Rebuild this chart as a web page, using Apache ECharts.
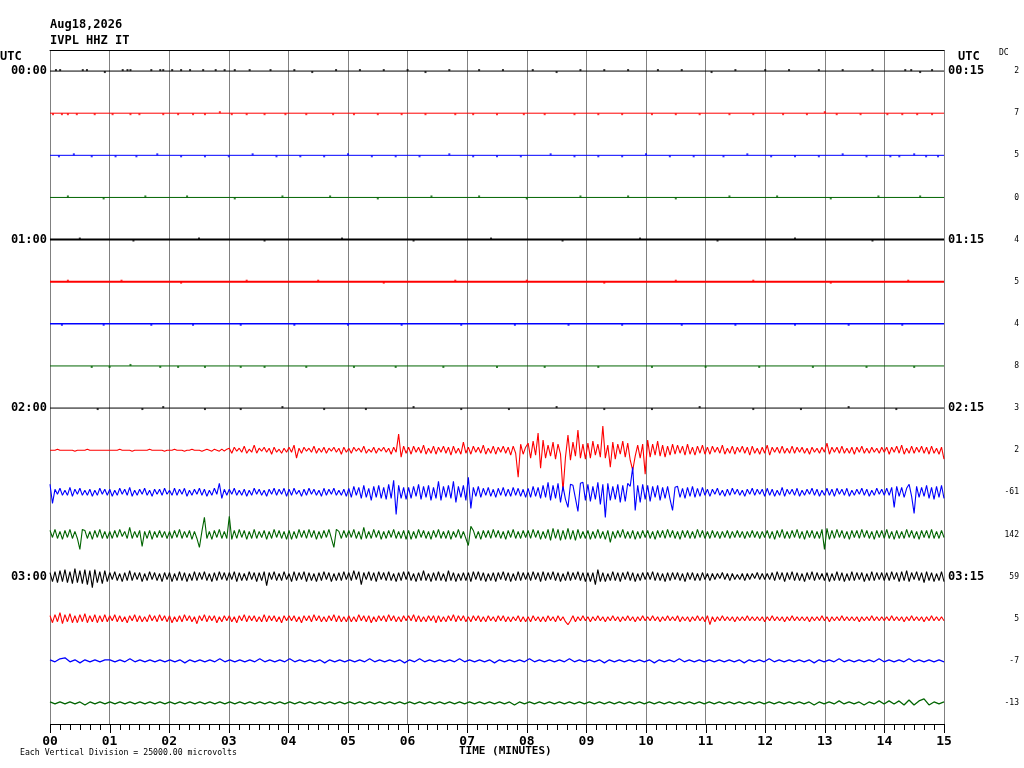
<!DOCTYPE html>
<html>
<head>
<meta charset="utf-8">
<title>IVPL HHZ IT</title>
<script src="https://cdn.jsdelivr.net/npm/echarts@6/dist/echarts.min.js"></script>
<style>
  html, body { margin: 0; padding: 0; background: #fff; }
  #main { width: 1024px; height: 768px; }
</style>
</head>
<body>
<div id="main"></div>
<script>
// helicorder, 16 lines of 15 minutes each
// displacement values are in 1/42 of a vertical division (25000 uV per division)
var leftLabels = ['00:00', '', '', '', '01:00', '', '', '', '02:00', '', '', '', '03:00', '', '', ''];
var rightLabels = ['00:15', '', '', '', '01:15', '', '', '', '02:15', '', '', '', '03:15', '', '', ''];
var dcValues = [2, 7, 5, 0, 4, 5, 4, 8, 3, 2, -61, 142, 59, 5, -7, -13];
var minuteTicks = ['00', '01', '02', '03', '04', '05', '06', '07', '08', '09', '10', '11', '12', '13', '14', '15'];
var ticksPerMinute = 6; // one small tick every 10 s

// quiet lines 0..8: flat trace with single-sample blips [minute, value]
var dots0 = [[0.1,1],[0.17,1],[0.55,1],[0.62,1],[0.92,-1],[1.22,1],[1.3,1],[1.35,1],[1.7,1],[1.85,1],[1.9,1],[2.05,1],[2.2,1],[2.35,1],[2.57,1],[2.78,1],[2.93,1],[3.1,1],[3.35,1],[3.7,1],[4.1,1],[4.4,-1],[4.8,1],[5.2,1],[5.6,1],[6.0,1],[6.3,-1],[6.7,1],[7.2,1],[7.6,1],[8.1,1],[8.5,-1],[8.9,1],[9.3,1],[9.7,1],[10.2,1],[10.6,1],[11.1,-1],[11.5,1],[12.0,1],[12.4,1],[12.9,1],[13.3,1],[13.8,1],[14.35,1],[14.45,1],[14.6,-1],[14.8,1]];
var dots1 = [[0.05,-1],[0.2,-1],[0.3,-1],[0.45,-1],[0.75,-1],[1.05,-1],[1.35,-1],[1.5,-1],[1.9,-1],[2.15,-1],[2.4,-1],[2.6,-1],[2.85,1],[3.05,-1],[3.3,-1],[3.6,-1],[3.95,-1],[4.3,-1],[4.75,-1],[5.1,-1],[5.5,-1],[5.9,-1],[6.3,-1],[6.8,-1],[7.1,-1],[7.5,-1],[7.95,-1],[8.3,-1],[8.8,-1],[9.2,-1],[9.6,-1],[10.1,-1],[10.5,-1],[10.9,-1],[11.4,-1],[11.8,-1],[12.3,-1],[12.7,-1],[13.0,1],[13.2,-1],[13.6,-1],[14.05,-1],[14.3,-1],[14.55,-1],[14.8,-1]];
var dots2 = [[0.15,-1],[0.4,1],[0.7,-1],[1.1,-1],[1.45,-1],[1.8,1],[2.2,-1],[2.6,-1],[3.0,-1],[3.4,1],[3.8,-1],[4.2,-1],[4.6,-1],[5.0,1],[5.4,-1],[5.8,-1],[6.2,-1],[6.7,1],[7.1,-1],[7.5,-1],[7.9,-1],[8.4,1],[8.8,-1],[9.2,-1],[9.6,-1],[10.0,1],[10.4,-1],[10.8,-1],[11.3,-1],[11.7,1],[12.1,-1],[12.5,-1],[12.9,-1],[13.3,1],[13.7,-1],[14.1,-1],[14.25,-1],[14.5,1],[14.7,-1],[14.9,-1]];
var dots3 = [[0.3,1],[0.9,-1],[1.6,1],[2.3,1],[3.1,-1],[3.9,1],[4.7,1],[5.5,-1],[6.4,1],[7.2,1],[8.0,-1],[8.9,1],[9.7,1],[10.5,-1],[11.4,1],[12.2,1],[13.1,-1],[13.9,1],[14.6,1]];
var dots4 = [[0.5,1],[1.4,-1],[2.5,1],[3.6,-1],[4.9,1],[6.1,-1],[7.4,1],[8.6,-1],[9.9,1],[11.2,-1],[12.5,1],[13.8,-1]];
var dots5 = [[0.3,1],[1.2,1],[2.2,-1],[3.3,1],[4.5,1],[5.6,-1],[6.8,1],[8.0,1],[9.3,-1],[10.5,1],[11.8,1],[13.1,-1],[14.4,1]];
var dots6 = [[0.2,-1],[0.9,-1],[1.7,-1],[2.4,-1],[3.2,-1],[4.1,-1],[5.0,-1],[5.9,-1],[6.9,-1],[7.8,-1],[8.7,-1],[9.6,-1],[10.6,-1],[11.5,-1],[12.5,-1],[13.4,-1],[14.3,-1]];
var dots7 = [[0.7,-1],[1.0,-1],[1.35,1],[1.85,-1],[2.15,-1],[2.6,-1],[3.2,-1],[3.6,-1],[4.3,-1],[5.1,-1],[5.8,-1],[6.6,-1],[7.5,-1],[8.3,-1],[9.2,-1],[10.1,-1],[11.0,-1],[11.9,-1],[12.8,-1],[13.7,-1],[14.5,-1]];
var dots8 = [[0.8,-1],[1.55,-1],[1.9,1],[2.6,-1],[3.2,-1],[3.9,1],[4.6,-1],[5.3,-1],[6.1,1],[6.9,-1],[7.7,-1],[8.5,1],[9.3,-1],[10.1,-1],[10.9,1],[11.8,-1],[12.6,-1],[13.4,1],[14.2,-1]];

// active lines 9..13, one sample every 2.5 s (24 per minute)
var t9 = [
  0,0,0,1,0,0,0,0,0,0,-1,0,0,0,0,1,0,0,0,0,0,0,0,0,
  0,0,0,0,1,0,0,0,0,-1,0,0,0,0,0,0,1,0,0,0,0,0,-1,0,
  0,0,1,0,0,0,-1,0,0,1,0,0,0,-1,0,1,0,-1,1,0,-1,1,-1,1,
  2,-3,3,-1,2,-2,4,-3,1,-2,5,-3,2,-1,3,-2,2,-4,3,-2,1,-3,2,-2,
  3,-2,5,-8,2,-3,3,-1,2,-2,4,-3,2,-2,3,-3,2,-1,3,-2,2,-4,3,-2,
  2,-3,3,-1,2,-2,4,-3,1,-2,3,-3,2,-1,3,-2,2,-4,3,-2,16,-7,4,-3,
  3,-4,4,-2,3,-3,5,-4,2,-3,4,-4,3,-2,4,-3,3,-5,4,-3,2,-4,8,-3,
  3,-4,4,-2,3,-3,5,-4,2,-3,4,-4,3,-2,4,-3,3,-5,4,-3,-27,6,-4,3,
  7,-8,9,-5,17,-18,10,-8,5,-6,8,-9,6,-4,-41,-7,15,-10,8,-6,20,-8,6,-9,
  7,-8,9,-5,6,-7,24,-8,5,-17,8,-9,6,-4,9,-7,7,-10,-20,-6,5,-8,6,-24,
  10,-7,6,-5,9,-6,5,-7,4,-5,6,-4,5,-3,4,-5,6,-4,3,-5,4,-3,5,-4,
  3,-4,4,-2,3,-3,5,-4,2,-3,4,-4,3,-2,4,-3,3,-5,4,-3,2,-4,3,-3,
  5,-5,3,-2,3,-3,4,-3,2,-3,4,-3,3,-2,3,-3,2,-4,3,-2,2,-3,3,-2,
  7,-4,3,-2,3,-3,4,-3,2,-3,3,-4,3,-2,4,-3,2,-3,3,-2,2,-3,3,-2,
  3,-4,3,-2,4,-3,5,-4,2,-3,4,-3,3,-2,4,-3,3,-4,4,-3,2,-4,3,-9
];
var t10 = [
  8,-11,3,-2,4,-3,2,-3,5,-4,3,-2,4,-3,2,-3,3,-4,2,-3,4,-2,3,-3,
  3,-4,2,-3,4,-2,3,-3,5,-4,2,-3,3,-2,4,-3,2,-4,3,-2,3,-3,4,-2,
  2,-3,4,-3,3,-2,4,-4,2,-3,3,-2,4,-3,3,-4,2,-3,4,-2,9,-6,3,-3,
  3,-2,4,-3,2,-3,3,-4,2,-3,4,-2,3,-3,2,-4,3,-2,4,-3,3,-2,4,-4,
  3,-3,4,-2,2,-4,3,-3,4,-2,3,-3,2,-4,4,-3,3,-2,4,-3,2,-3,3,-4,
  4,-5,6,-3,5,-6,7,-5,4,-8,6,-5,7,-6,5,-7,8,-6,12,-22,7,-6,5,-7,
  5,-6,6,-4,8,-7,6,-5,7,-8,5,-6,11,-8,6,-5,7,-6,11,-10,6,-5,7,-8,
  15,-16,5,-4,6,-5,4,-3,5,-4,3,-5,4,-3,5,-4,3,-4,5,-3,4,-4,3,-5,
  4,-5,6,-4,5,-6,7,-5,10,-8,7,-6,9,-10,6,-7,-15,8,7,-6,-19,9,10,-8,
  8,-9,6,-7,10,-12,8,-25,9,-8,6,-7,8,-10,7,-9,9,6,25,-18,7,-10,8,-7,
  7,-9,6,-5,7,-8,5,-6,6,-7,-18,5,6,-5,4,-6,5,-4,6,-5,4,-4,5,-3,
  3,-4,3,-2,4,-3,2,-4,3,-3,4,-2,3,-3,2,-4,3,-2,4,-3,3,-2,3,-4,
  4,-3,3,-4,2,-3,5,-4,3,-2,3,-3,4,-4,2,-3,3,-2,4,-3,3,-4,2,-3,
  4,-3,3,-4,4,-2,3,-3,4,-4,2,-3,3,-2,4,-3,3,-4,2,-3,4,-2,3,-3,
  4,-3,5,-15,6,-4,5,-5,4,8,-4,-21,6,-5,5,-4,7,-6,5,-7,6,-5,7,-6
];
var t11 = [
  4,-3,5,-4,3,-5,4,-3,5,-4,3,-4,-15,5,4,-4,3,-5,4,-3,5,-4,3,-4,
  3,-4,4,-3,5,-2,3,-4,7,-4,3,-3,4,-12,3,-4,4,-5,3,-3,4,-3,3,-4,
  3,-4,4,-3,5,-4,3,-3,4,-5,3,-4,-13,3,17,-4,3,-5,4,-3,5,-4,3,-4,
  18,-5,4,-4,5,-3,4,-5,3,-4,5,-4,3,-3,4,-5,3,-4,5,-3,4,-4,3,-5,
  4,-5,3,-4,5,-3,4,-4,5,-3,4,-5,3,-4,4,-3,5,-4,-13,5,3,-4,4,-3,
  4,-3,5,-4,3,-5,7,-4,3,-4,5,-3,4,-5,3,-4,4,-3,5,-4,3,-4,4,-5,
  4,-5,3,-4,5,-3,4,-4,3,-5,4,-3,5,-4,3,-4,4,-5,3,-3,5,-4,3,-4,
  -11,8,4,-4,3,-5,4,-3,4,-4,5,-3,4,-4,3,-5,4,-3,5,-4,3,-4,4,-3,
  4,-4,5,-3,4,-5,3,-4,5,-6,6,-4,5,-6,4,-5,6,-5,4,-6,5,-4,3,-4,
  4,-5,3,-4,5,-4,3,-5,4,-8,3,-4,4,-3,5,-4,3,-4,4,-5,3,-4,4,-3,
  4,-4,3,-5,4,-3,4,-4,5,-3,4,-4,3,-5,4,-3,4,-4,3,-4,5,-3,4,-4,
  3,-4,4,-3,3,-4,3,-3,4,-4,3,-3,4,-3,3,-4,3,-3,4,-3,3,-4,3,-3,
  4,-4,3,-5,4,-3,5,-4,3,-4,4,-3,5,-4,3,-5,4,-3,4,-4,3,-4,5,-15,
  6,-5,4,-4,5,-3,4,-4,3,-5,4,-3,4,-4,5,-3,4,-4,3,-5,4,-3,4,-4,
  5,-4,3,-5,4,-4,3,-4,5,-3,4,-4,3,-5,4,-3,4,-4,5,-4,3,-4,4,-3
];
var t12 = [
  4,-5,5,-6,6,-5,7,-6,5,-7,8,-6,6,-7,7,-8,6,-11,7,-6,5,-7,6,-5,
  4,-3,5,-4,3,-5,4,-4,6,-4,4,-3,4,-5,3,-4,5,-3,4,-4,3,-5,4,-3,
  4,-5,3,-4,5,-4,4,-5,3,-4,5,-4,4,-3,5,-4,3,-5,4,-4,5,-3,4,-4,
  4,-3,5,-5,4,-4,3,-4,5,-3,4,-5,4,-4,5,-9,4,-3,5,-4,3,-4,5,-3,
  3,-5,5,-4,4,-3,5,-5,4,-4,3,-5,4,-4,5,-3,4,-5,3,-4,4,-4,5,-3,
  4,-4,6,-3,5,-8,4,-3,5,-4,4,-5,5,-3,4,-4,5,-4,3,-5,4,-4,5,-3,
  5,-4,3,-5,4,-4,6,-4,3,-5,4,-4,5,-4,3,-5,6,-4,4,-5,3,-4,4,-4,
  4,-5,5,-3,5,-4,4,-5,3,-4,4,-5,4,-3,5,-4,4,-5,3,-4,5,-4,4,-3,
  4,-4,5,-3,4,-5,5,-4,4,-3,5,-4,4,-5,3,-4,5,-4,4,-3,5,-4,4,-5,
  4,-5,4,-8,7,-5,4,-5,3,-4,5,-4,4,-5,4,-3,5,-4,4,-5,3,-4,4,-3,
  4,-3,5,-4,4,-4,3,-5,4,-4,4,-3,4,-4,3,-5,4,-3,4,-4,3,-4,4,-3,
  3,-4,3,-3,3,-2,4,-3,3,-4,3,-3,2,-3,3,-4,3,-3,3,-2,4,-3,3,-3,
  3,-3,4,-4,5,-3,4,-5,4,-3,5,-4,4,-4,3,-5,4,-3,5,-4,4,-3,3,-4,
  4,-5,3,-4,5,-4,4,-5,3,-4,5,-4,4,-3,4,-5,3,-4,5,-4,4,-3,4,-4,
  4,-4,5,-3,4,-5,5,-4,6,-5,4,-3,5,-4,4,-6,5,-4,4,-5,3,-4,5,-5
];
var t13 = [
  3,-4,4,-3,6,-5,4,-3,5,-4,3,-4,4,-3,5,-4,3,-3,4,-4,3,-3,4,-3,
  3,-2,4,-3,3,-3,2,-4,3,-2,4,-3,3,-3,2,-3,4,-2,3,-3,4,-2,3,-3,
  3,-4,2,-3,3,-3,4,-2,3,-3,2,-5,3,-2,4,-3,3,-2,3,-4,2,-3,3,-2,
  3,-3,2,-4,3,-2,4,-3,3,-2,3,-3,2,-3,4,-3,3,-2,3,-3,2,-4,3,-2,
  3,-2,3,-3,2,-4,3,-2,3,-3,4,-2,3,-3,2,-3,3,-2,4,-3,3,-3,2,-3,
  3,-3,2,-3,4,-2,3,-3,3,-4,2,-3,3,-2,3,-3,4,-2,3,-3,2,-3,3,-2,
  3,-2,4,-3,3,-3,2,-3,3,-2,3,-4,3,-3,2,-3,3,-2,4,-3,3,-2,3,-3,
  2,-3,3,-2,3,-3,2,-3,3,-2,2,-3,3,-2,3,-3,2,-3,2,-2,3,-3,2,-3,
  2,-3,3,-2,2,-3,2,-3,3,-2,2,-3,3,-2,2,-3,-6,-2,3,-3,2,-2,3,-2,
  2,-3,2,-2,3,-2,2,-3,2,-2,3,-2,2,-3,2,-2,3,-2,2,-3,2,-2,3,-2,
  2,-2,3,-2,2,-3,2,-2,3,-2,2,-2,3,-3,2,-2,2,-3,2,-2,3,-2,2,-3,
  3,-6,2,-3,2,-2,3,-2,2,-2,2,-3,2,-2,2,-2,3,-2,2,-2,2,-2,2,-3,
  2,-2,3,-2,2,-2,2,-3,2,-2,3,-2,2,-2,2,-2,2,-3,2,-2,2,-2,3,-2,
  2,-3,2,-2,2,-2,3,-2,2,-2,2,-2,2,-3,2,-2,2,-2,3,-2,2,-2,2,-2,
  2,-2,3,-2,2,-2,2,-3,2,-2,3,-2,2,-2,2,-3,2,-2,3,-2,2,-2,2,-2
];
// low-noise lines 14..15, one sample every 5 s
var t14 = [
  1,-1,2,3,-1,1,-2,1,-1,1,-1,1,  1,-1,1,-1,2,-1,1,-1,1,-1,1,-1,  1,-1,1,-2,1,-1,1,-1,1,-1,2,-1,
  1,-1,1,-1,1,-1,2,-1,1,-1,1,-1,  2,-1,1,-1,1,-1,1,-2,1,-1,1,-1,  1,-1,1,-1,2,-1,1,-1,1,-1,1,-2,
  1,-1,2,-1,1,-1,1,-1,1,-1,2,-1,  1,-1,1,-1,1,-2,1,-1,1,-1,1,-1,  2,-1,1,-1,1,-1,1,-1,2,-1,1,-1,
  1,-1,1,-2,1,-1,1,-1,1,-1,1,-1,  1,-2,1,-1,1,-1,2,-1,1,-1,1,-1,  1,-1,1,-1,1,-1,1,-2,1,-1,1,-1,
  2,-1,1,-1,1,-1,1,-1,1,-2,1,-1,  1,-1,2,-1,1,-1,1,-1,1,-1,2,-1,  1,-1,1,-1,2,-1,1,-1,1,-1,1,-1
];
var t15 = [
  1,-1,1,-1,1,-1,1,-2,1,-1,1,-1,  1,-1,1,-1,1,-1,1,-1,1,-1,1,-1,  1,-1,1,-1,1,-1,1,-1,1,-1,1,-1,
  1,-1,1,-1,1,-1,1,-1,1,-1,1,-1,  1,-1,1,-1,1,-1,1,-1,1,-1,1,-1,  1,-1,1,-1,1,-1,1,-1,1,-1,1,-1,
  1,-1,1,-1,1,-1,1,-1,1,-1,1,-1,  1,-1,1,-1,1,-1,1,-1,1,-2,1,-1,  1,-1,1,-1,1,-1,1,-1,1,-1,1,-1,
  1,-1,1,-1,1,-1,1,-1,1,-1,1,-1,  1,-1,1,-1,1,-1,1,-1,1,-1,1,-1,  1,-1,1,-1,1,-1,1,-1,1,-1,1,-1,
  1,-1,1,-1,1,-1,1,-1,1,-2,1,-1,  1,-1,2,-1,1,-1,1,-2,1,-1,2,-1,  2,-1,2,-2,3,-2,2,4,-2,1,-1,1
];

var dotRows = [dots0, dots1, dots2, dots3, dots4, dots5, dots6, dots7, dots8];
var waveRows = { 9: t9, 10: t10, 11: t11, 12: t12, 13: t13, 14: t14, 15: t15 };
var colors = ['#000000', '#ff0000', '#0000ff', '#006400'];
var MONO = 'DejaVu Sans Mono';
var UNITS_PER_DIV = 42;

var dom = document.getElementById('main');
var myChart = echarts.init(dom);

var series = [];
// flat lines with blips
for (var k = 0; k < dotRows.length; k++) {
    var col = colors[k % 4];
    series.push({
        type: 'line',
        data: [[0, k], [15, k]],
        showSymbol: false,
        symbol: 'none',
        silent: true,
        lineStyle: { color: col, width: (k == 4 || k == 5) ? 2 : (k == 6 ? 1.5 : 1) },
        z: 3
    });
    series.push({
        type: 'scatter',
        data: dotRows[k].map(function(d) { return [d[0], k - d[1] / UNITS_PER_DIV]; }),
        symbol: 'rect',
        symbolSize: [2, 2],
        silent: true,
        itemStyle: { color: col },
        z: 4
    });
}
// wiggly lines
for (var r = 9; r < 16; r++) {
    var arr = waveRows[r];
    var step = 15 / (arr.length - 1);
    var pts = [];
    for (var i = 0; i < arr.length; i++) {
        pts.push([i * step, r - arr[i] / UNITS_PER_DIV]);
    }
    series.push({
        type: 'line',
        data: pts,
        showSymbol: false,
        symbol: 'none',
        silent: true,
        lineStyle: { color: colors[r % 4], width: r >= 14 ? 1.3 : 1.1 },
        z: 3
    });
}

var texts = [
    { type: 'text', left: 50, top: 19, style: { text: 'Aug18,2026', fill: '#000', font: 'bold 12px ' + MONO } },
    { type: 'text', left: 50, top: 35, style: { text: 'IVPL HHZ IT', fill: '#000', font: 'bold 12px ' + MONO } },
    { type: 'text', left: 0, top: 51, style: { text: 'UTC', fill: '#000', font: 'bold 12px ' + MONO } },
    { type: 'text', left: 958, top: 51, style: { text: 'UTC', fill: '#000', font: 'bold 12px ' + MONO } },
    { type: 'text', left: 999, top: 49, style: { text: 'DC', fill: '#000', font: '8px ' + MONO } },
    { type: 'text', left: 459, top: 746, style: { text: 'TIME (MINUTES)', fill: '#000', font: 'bold 11px ' + MONO } },
    { type: 'text', left: 20, top: 749, style: { text: 'Each Vertical Division = 25000.00 microvolts', fill: '#000', font: '8.2px ' + MONO } }
];

var option = {
    animation: false,
    backgroundColor: '#ffffff',
    grid: { left: 50, right: 80, top: 50, bottom: 44, containLabel: false },
    xAxis: [{
            type: 'value',
            position: 'bottom',
            min: 0,
            max: 15,
            interval: 1,
            axisLine: { show: false, onZero: false },
            axisTick: { show: false },
            splitLine: { show: true, showMinLine: true, showMaxLine: true, lineStyle: { color: '#808080', width: 1 } },
            axisLabel: {
                margin: 11,
                color: '#000',
                fontFamily: MONO,
                fontWeight: 'bold',
                fontSize: 13,
                formatter: function(v) { return minuteTicks[Math.round(v)]; }
            }
        },
        {
            // frame on top
            type: 'value',
            position: 'top',
            min: 0,
            max: 15,
            interval: 1,
            axisLine: { show: true, onZero: false, lineStyle: { color: '#000', width: 1 } },
            axisTick: { show: false },
            minorTick: { show: false },
            axisLabel: { show: false },
            splitLine: { show: false }
        }
    ],
    yAxis: [{
            type: 'value',
            inverse: true,
            min: -0.5,
            max: 15.5,
            show: false
        },
        {
            type: 'category',
            inverse: true,
            position: 'left',
            data: leftLabels,
            axisLine: { show: false, onZero: false },
            axisTick: { show: false },
            axisLabel: { interval: 0, margin: 3, color: '#000', fontFamily: MONO, fontWeight: 'bold', fontSize: 12 }
        },
        {
            type: 'category',
            inverse: true,
            position: 'right',
            data: rightLabels,
            axisLine: { show: false, onZero: false },
            axisTick: { show: false },
            axisLabel: { interval: 0, margin: 4, color: '#000', fontFamily: MONO, fontWeight: 'bold', fontSize: 12 }
        },
        {
            type: 'category',
            inverse: true,
            position: 'right',
            data: dcValues.map(String),
            axisLine: { show: false, onZero: false },
            axisTick: { show: false },
            axisLabel: { interval: 0, margin: 75, align: 'right', color: '#000', fontFamily: MONO, fontSize: 8 }
        }
    ],
    graphic: texts,
    series: series
};

if (option && typeof option === "object") {
    myChart.setOption(option, true);
}

// time axis line and ticks, placed through the chart's own x scale
var yBottom = Math.round(myChart.convertToPixel({ yAxisIndex: 0 }, 15.5));
var xStart = myChart.convertToPixel({ xAxisIndex: 0 }, 0);
var xEnd = myChart.convertToPixel({ xAxisIndex: 0 }, 15);
var axisMarks = [{
    type: 'line',
    z: 100,
    silent: true,
    shape: { x1: xStart, y1: yBottom + 0.5, x2: xEnd + 1, y2: yBottom + 0.5 },
    style: { stroke: '#000', lineWidth: 1 }
}];
for (var m = 0; m < minuteTicks.length; m++) {
    for (var s = 0; s < ticksPerMinute; s++) {
        if (m == minuteTicks.length - 1 && s > 0) break;
        var px = Math.round(myChart.convertToPixel({ xAxisIndex: 0 }, m + s / ticksPerMinute)) + 0.5;
        var len = s == 0 ? 9 : 6;
        axisMarks.push({
            type: 'line',
            z: 100,
            silent: true,
            shape: { x1: px, y1: yBottom, x2: px, y2: yBottom + len },
            style: { stroke: '#000', lineWidth: 1 }
        });
    }
}
myChart.setOption({ graphic: texts.concat(axisMarks) });
</script>
</body>
</html>
